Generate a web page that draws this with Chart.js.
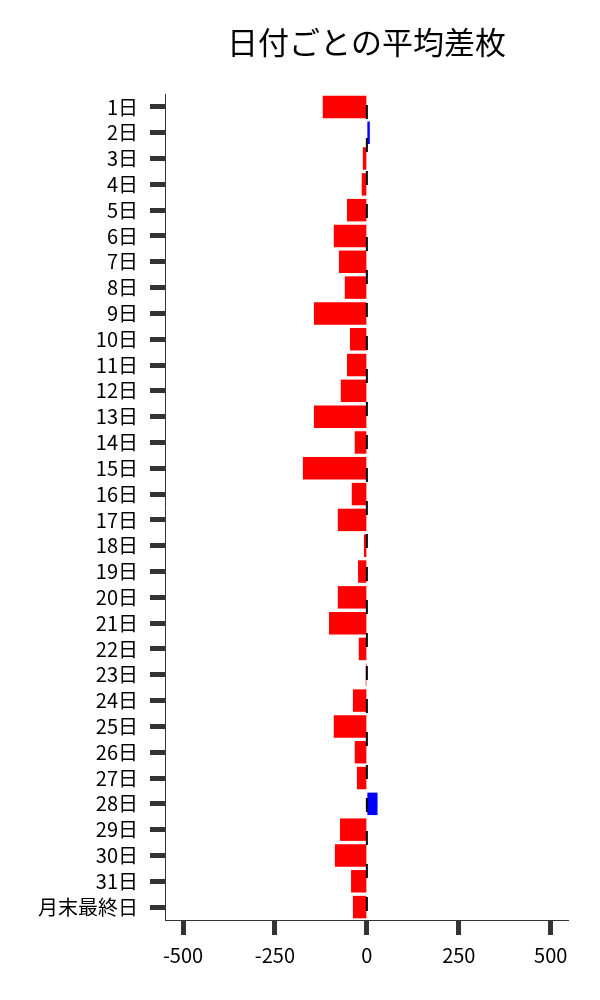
<!DOCTYPE html>
<html lang="ja">
<head>
<meta charset="UTF-8">
<title>日付ごとの平均差枚</title>
<script src="https://cdn.jsdelivr.net/npm/chart.js@4/dist/chart.umd.min.js"></script>
<style>
  html, body { margin: 0; padding: 0; background: #fff; }
  #wrap { width: 600px; height: 1000px; }
</style>
</head>
<body>
<div id="wrap"><canvas id="chart" width="600" height="1000"></canvas></div>
<script>
// ============================================================================
// Data
// ============================================================================

const TITLE = '日付ごとの平均差枚';

const dayLabels = [
  '1日', '2日', '3日', '4日', '5日', '6日', '7日', '8日', '9日', '10日',
  '11日', '12日', '13日', '14日', '15日', '16日', '17日', '18日', '19日', '20日',
  '21日', '22日', '23日', '24日', '25日', '26日', '27日', '28日', '29日', '30日',
  '31日', '月末最終日'
];

const avgDiff = [
  -120, 8, -11, -14, -54, -90, -76, -60, -144, -46,
  -54, -71, -144, -33, -174, -41, -79, -8, -24, -79,
  -103, -22, -3, -38, -90, -33, -27, 29, -73, -87,
  -43, -38
];

const xTicks = [-500, -250, 0, 250, 500];

const FONT = '"Noto Sans CJK JP", "Noto Sans", sans-serif';

// ============================================================================
// Plugins
// ============================================================================

// title centred over the plot area, not the canvas
const titlePlugin = {
  id: 'areaTitle',
  afterDraw(chart) {
    const { ctx, chartArea } = chart;
    ctx.save();
    ctx.font = `31px ${FONT}`;
    ctx.fillStyle = '#000';
    ctx.textAlign = 'center';
    ctx.textBaseline = 'middle';
    ctx.fillText(TITLE, (chartArea.left + chartArea.right) / 2, 42);
    ctx.restore();
  }
};

// dashed line at zero, on top of the bars
const zeroLinePlugin = {
  id: 'zeroLine',
  afterDatasetsDraw(chart) {
    const { ctx, chartArea, scales } = chart;
    const x = scales.x.getPixelForValue(0);
    ctx.save();
    ctx.strokeStyle = '#000';
    ctx.lineWidth = 2;
    ctx.setLineDash([14, 19]);
    ctx.lineDashOffset = 22;
    ctx.beginPath();
    ctx.moveTo(x, chartArea.top);
    ctx.lineTo(x, chartArea.bottom);
    ctx.stroke();
    ctx.restore();
  }
};

// ============================================================================
// Chart
// ============================================================================

const ctx = document.getElementById('chart').getContext('2d');
new Chart(ctx, {
  type: 'bar',
  data: {
    labels: dayLabels,
    datasets: [{
      data: avgDiff,
      backgroundColor: avgDiff.map(v => v >= 0 ? '#0000ff' : '#ff0000'),
      borderWidth: 0,
      barPercentage: 0.87,
      categoryPercentage: 1
    }]
  },
  options: {
    indexAxis: 'y',
    responsive: false,
    animation: false,
    devicePixelRatio: 1,
    layout: { padding: { top: 94, right: 32, left: 0, bottom: 0 } },
    plugins: {
      legend: { display: false },
      title: { display: false },
      tooltip: { enabled: false }
    },
    scales: {
      x: {
        min: -549,
        max: 547,
        afterBuildTicks: scale => { scale.ticks = xTicks.map(v => ({ value: v })); },
        afterFit: scale => { scale.height = 80; },
        border: { display: true, color: '#333', width: 1 },
        grid: {
          drawOnChartArea: false,
          drawTicks: true,
          tickLength: 15,
          tickWidth: 5,
          tickColor: '#333'
        },
        ticks: {
          color: '#000',
          padding: 8,
          maxRotation: 0,
          font: { family: FONT, size: 20 }
        }
      },
      y: {
        afterFit: scale => { scale.width = 165; },
        border: { display: true, color: '#333', width: 1 },
        grid: {
          offset: false,
          drawOnChartArea: false,
          drawTicks: true,
          tickLength: 15,
          tickWidth: 5,
          tickColor: '#333'
        },
        ticks: {
          color: '#000',
          padding: 12,
          autoSkip: false,
          font: { family: FONT, size: 20 }
        }
      }
    }
  },
  plugins: [titlePlugin, zeroLinePlugin]
});
</script>
</body>
</html>
